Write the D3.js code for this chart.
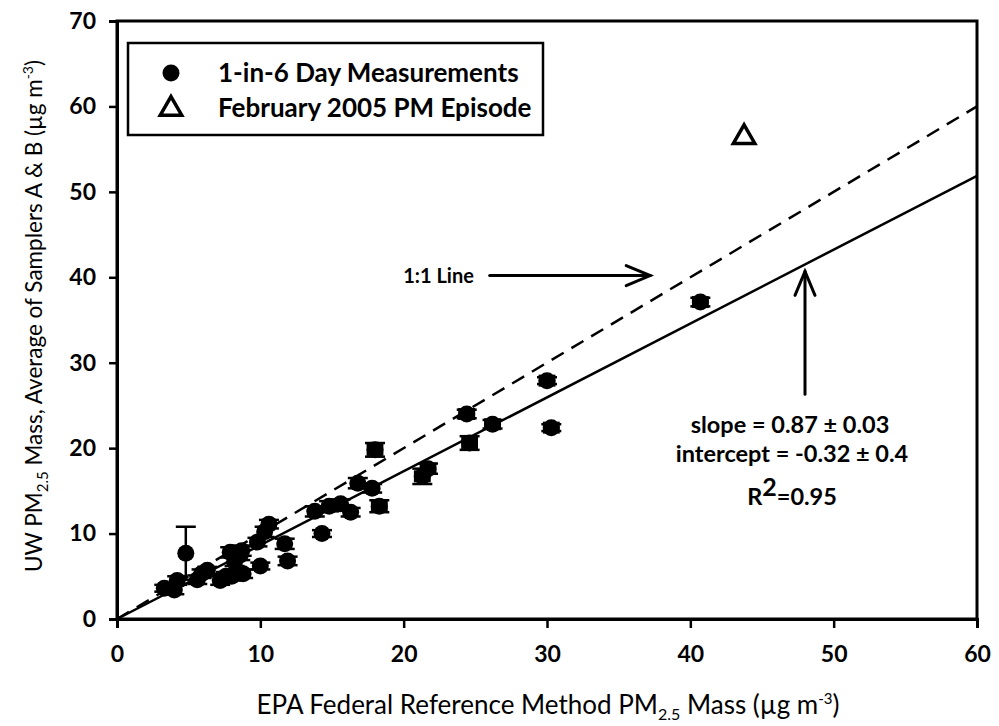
<!DOCTYPE html>
<html><head><meta charset="utf-8">
<script src="https://cdn.jsdelivr.net/npm/d3@7"></script>
<style>body{margin:0;background:#fff}svg{display:block}text{font-family:Lato,"Open Sans",sans-serif}</style>
</head><body>
<script>
// Data (EPA FRM PM2.5 vs UW PM2.5 average of samplers A & B)
const frmX = [3.3,4.0,4.2,4.8,5.6,5.9,6.3,7.2,7.6,7.9,8.2,8.6,8.8,8.0,8.7,10.0,9.8,10.3,10.6,11.7,11.9,13.8,14.3,14.8,15.6,16.3,16.8,17.8,18.0,18.3,21.3,21.7,24.4,24.6,26.2,30.0,30.3,40.7];
const uwY  = [3.6,3.4,4.5,7.7,4.6,5.3,5.7,4.5,5.0,7.8,6.7,7.5,5.3,5.0,8.0,6.2,9.0,10.2,11.1,8.8,6.8,12.6,10.0,13.2,13.5,12.5,15.9,15.3,19.8,13.2,16.7,17.6,24.0,20.6,22.8,27.9,22.4,37.1];
const yErr = [0.4,0.5,0.5,3.1,0.5,0.5,0.4,0.5,0.5,0.6,0.5,0.6,0.5,0.5,0.6,0.4,0.5,0.6,0.5,0.6,0.5,0.6,0.4,0.6,0.5,0.5,0.6,0.5,0.8,0.7,0.9,0.6,0.5,0.8,0.5,0.4,0.4,0.5];
const xErr = [0.3,0.3,0.3,0.3,0.3,0.3,0.3,0.3,0.3,0.3,0.3,0.3,0.3,0.3,0.3,0.3,0.3,0.3,0.3,0.3,0.3,0.3,0.3,0.3,0.3,0.3,0.3,0.3,0.5,0.5,0.5,0.5,0.5,0.5,0.5,0.5,0.5,0.5];
const episodeX = [43.75];
const episodeY = [56.4];
const xTicks = [0,10,20,30,40,50,60];
const yTicks = [0,10,20,30,40,50,60,70];
const fitSlope = 0.87, fitIntercept = -0.32;
const legendLabels = ["1-in-6 Day Measurements","February 2005 PM Episode"];
const statLines = ["slope = 0.87 \u00B1 0.03","intercept = -0.32 \u00B1 0.4"];

const W = 999, H = 726;
const svg = d3.select("body").append("svg").attr("width",W).attr("height",H);
const x = d3.scaleLinear().domain([0,60]).range([117,977]);
const y = d3.scaleLinear().domain([0,70]).range([619,21]);

// frame
svg.append("rect").attr("x",x(0)).attr("y",y(70)).attr("width",x(60)-x(0)).attr("height",y(0)-y(70))
  .attr("fill","none").attr("stroke","#000").attr("stroke-width",3);

// axes
const xa = svg.append("g").attr("transform",`translate(0,${y(0)})`)
  .call(d3.axisBottom(x).tickValues(xTicks).tickSize(9).tickPadding(18));
const ya = svg.append("g").attr("transform",`translate(${x(0)},0)`)
  .call(d3.axisLeft(y).tickValues(yTicks).tickSize(8).tickPadding(13));
[xa,ya].forEach(g=>{
  g.select(".domain").attr("stroke-width",3);
  g.selectAll(".tick line").attr("stroke-width",2.5);
  g.selectAll(".tick text").attr("font-size",23).attr("font-weight","bold").attr("fill","#000")
   .style("font-family","Lato,sans-serif");
});

// lines
svg.append("line").attr("x1",x(0)).attr("y1",y(0)).attr("x2",x(60)).attr("y2",y(60))
  .attr("stroke","#000").attr("stroke-width",2.5).attr("stroke-dasharray","14,9");
svg.append("line").attr("x1",x(0)).attr("y1",y(Math.max(0,fitIntercept))).attr("x2",x(60)).attr("y2",y(fitSlope*60+fitIntercept))
  .attr("stroke","#000").attr("stroke-width",2.5);

// error bars
const pts = frmX.map((v,i)=>({x:v,y:uwY[i],ex:xErr[i],ey:yErr[i]}));
const eb = svg.append("g").attr("stroke","#000").attr("stroke-width",2.5);
pts.forEach(p=>{
  eb.append("line").attr("x1",x(p.x)).attr("x2",x(p.x)).attr("y1",y(p.y-p.ey)).attr("y2",y(p.y+p.ey));
  [p.y-p.ey,p.y+p.ey].forEach(v=>eb.append("line").attr("x1",x(p.x)-10).attr("x2",x(p.x)+10).attr("y1",y(v)).attr("y2",y(v)));
  eb.append("line").attr("y1",y(p.y)).attr("y2",y(p.y)).attr("x1",x(p.x-p.ex)).attr("x2",x(p.x+p.ex));
  [p.x-p.ex,p.x+p.ex].forEach(v=>eb.append("line").attr("y1",y(p.y)-6).attr("y2",y(p.y)+6).attr("x1",x(v)).attr("x2",x(v)));
});
svg.append("g").selectAll("circle").data(pts).join("circle")
  .attr("cx",d=>x(d.x)).attr("cy",d=>y(d.y)).attr("r",8.5).attr("fill","#000");

// episode triangle
const tri = d3.symbol().type(d3.symbolTriangle).size(200);
svg.append("g").selectAll("path").data(episodeX).join("path")
  .attr("d",tri).attr("transform",(d,i)=>`translate(${x(d)},${y(episodeY[i])})`)
  .attr("fill","#fff").attr("stroke","#000").attr("stroke-width",3.5);

// legend
const lg = svg.append("g");
lg.append("rect").attr("x",128).attr("y",43).attr("width",415).attr("height",92)
  .attr("fill","#fff").attr("stroke","#000").attr("stroke-width",2.5);
lg.append("circle").attr("cx",171).attr("cy",73).attr("r",8.5).attr("fill","#000");
lg.append("path").attr("d",tri).attr("transform","translate(171,109)")
  .attr("fill","#fff").attr("stroke","#000").attr("stroke-width",3.5);
legendLabels.forEach((t,i)=>lg.append("text").attr("x",218).attr("y",82+i*35)
  .attr("font-size",26).attr("font-weight","bold").text(t));

// annotations
svg.append("text").attr("x",x(24.9)).attr("y",y(40.2)+7).attr("text-anchor","end")
  .attr("font-size",20).attr("font-weight","bold").text("1:1 Line");
const arr = svg.append("g").attr("stroke","#000").attr("stroke-width",3).attr("fill","none").attr("stroke-linecap","round");
arr.append("line").attr("x1",x(26.0)).attr("y1",y(40.2)).attr("x2",x(37.2)).attr("y2",y(40.2));
arr.append("path").attr("d",`M${x(37.2)-24},${y(40.2)-10} L${x(37.2)},${y(40.2)} L${x(37.2)-24},${y(40.2)+10}`);
arr.append("line").attr("x1",x(48)).attr("y1",y(26.3)).attr("x2",x(48)).attr("y2",y(40.7));
arr.append("path").attr("d",`M${x(48)-10},${y(40.7)+24} L${x(48)},${y(40.7)} L${x(48)+10},${y(40.7)+24}`);

const st = svg.append("g").attr("text-anchor","middle").attr("font-size",23.5).attr("font-weight","bold");
st.append("text").attr("x",790).attr("y",433).text(statLines[0]);
st.append("text").attr("x",792).attr("y",462).text(statLines[1]);
const r2 = st.append("text").attr("x",792).attr("y",505);
r2.append("tspan").text("R");
r2.append("tspan").attr("dy",-9).attr("font-size",25).text("2");
r2.append("tspan").attr("dy",9).text("=0.95");

// axis titles
const xt = svg.append("text").attr("x",548).attr("y",714).attr("text-anchor","middle").attr("font-size",26);
xt.append("tspan").text("EPA Federal Reference Method PM");
xt.append("tspan").attr("dy",6).attr("font-size",16).text("2.5");
xt.append("tspan").attr("dy",-6).text(" Mass (\u00B5g m");
xt.append("tspan").attr("dy",-10).attr("font-size",15).text("-3");
xt.append("tspan").attr("dy",10).text(")");

const yt = svg.append("text").attr("transform","translate(42,316) rotate(-90)").attr("text-anchor","middle").attr("font-size",22.5);
yt.append("tspan").text("UW PM");
yt.append("tspan").attr("dy",6).attr("font-size",15).text("2.5");
yt.append("tspan").attr("dy",-6).text(" Mass, Average of Samplers A & B (\u00B5g m");
yt.append("tspan").attr("dy",-9).attr("font-size",14).text("-3");
yt.append("tspan").attr("dy",9).text(")");
</script>
</body></html>
